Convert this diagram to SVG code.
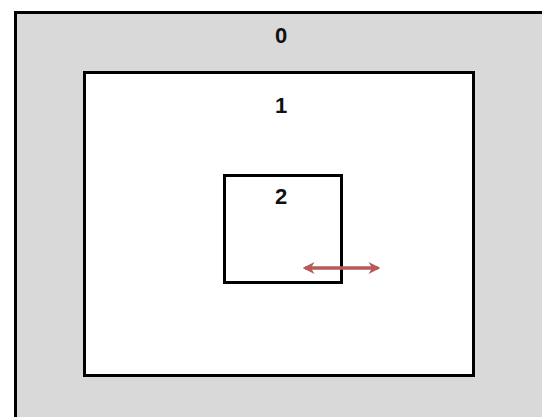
<svg xmlns="http://www.w3.org/2000/svg" width="542" height="417" viewBox="0 0 542 417">
<style>
.box{stroke:#000;stroke-width:3}
.lbl{font-family:"Liberation Sans",Arial,sans-serif;font-weight:bold;font-size:22px;fill:#111;text-anchor:middle}
.conn{stroke:#b65a5a;stroke-width:3.5;fill:none}
</style>
<defs>
<marker id="ah" viewBox="0 0 10 10" refX="8" refY="5" markerWidth="3.4" markerHeight="3.4" orient="auto-start-reverse">
<path d="M0,0 L10,5 L0,10 L3,5 z" fill="#b65a5a"/>
</marker>
</defs>
<rect width="542" height="417" fill="#fff"/>
<g id="node0">
<rect class="box" x="15.5" y="12.5" width="540" height="420" fill="#d9d9d9"/>
<text class="lbl" x="281" y="43">0</text>
</g>
<g id="node1">
<rect class="box" x="84.5" y="72.5" width="389" height="303" fill="#fff"/>
<text class="lbl" x="281" y="113">1</text>
</g>
<g id="node2">
<rect class="box" x="224.5" y="175.5" width="117" height="107" fill="#fff"/>
<text class="lbl" x="281" y="204">2</text>
</g>
<g id="connectors">
<line class="conn" x1="305" y1="268" x2="378" y2="268" marker-start="url(#ah)" marker-end="url(#ah)"/>
</g>
</svg>
